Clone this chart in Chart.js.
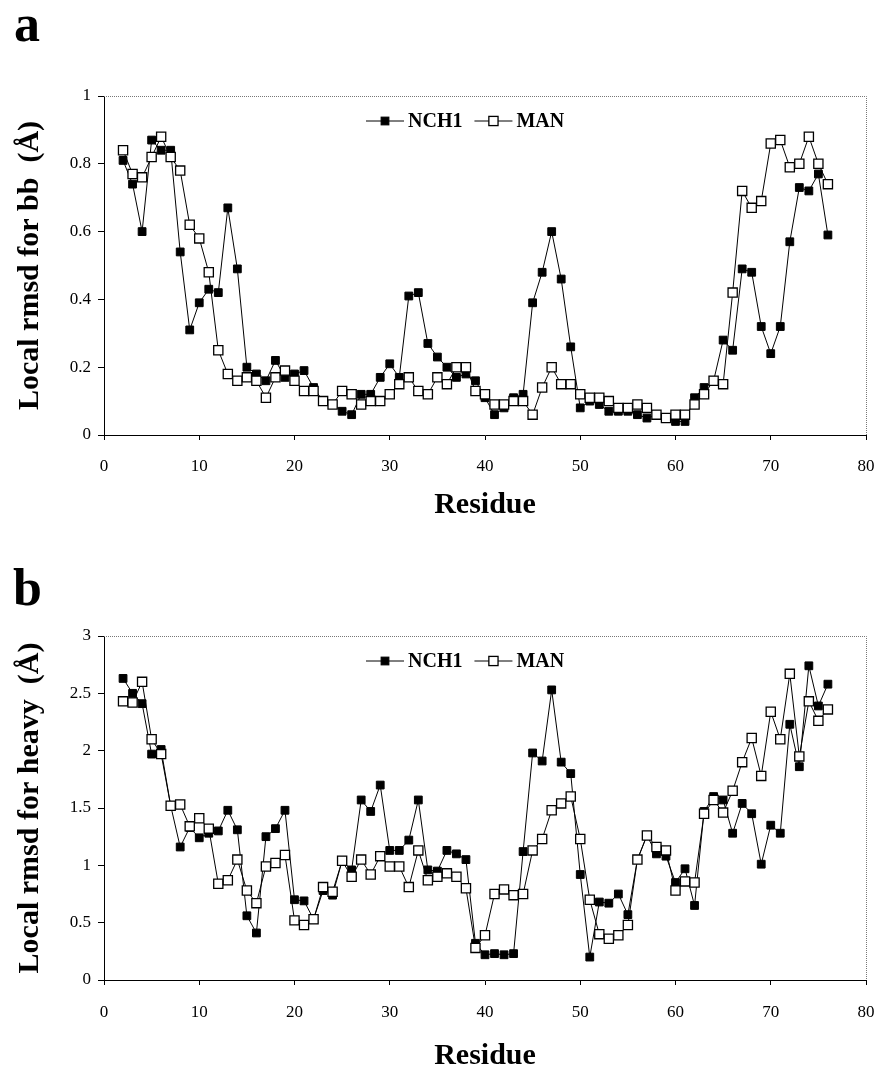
<!DOCTYPE html>
<html>
<head>
<meta charset="utf-8">
<script src="https://cdn.jsdelivr.net/npm/chart.js@4.4.1/dist/chart.umd.min.js"></script>
<style>
  body { margin: 0; background: #fff; }
  #hoja { position: relative; width: 878px; height: 1071px; background: #fff; }
  .letra { position: absolute; font: bold 52px 'Liberation Serif', serif; line-height: 1; color: #000; }
  canvas { position: absolute; left: 0; }
</style>
</head>
<body>
<div id="hoja">
  <div class="letra" style="left:14px; top:-2px;">a</div>
  <div class="letra" style="left:13px; top:562px;">b</div>
  <canvas id="graficoA" width="878" height="540" style="top:0px;"></canvas>
  <canvas id="graficoB" width="878" height="531" style="top:540px;"></canvas>
</div>
<script>
const residuos = [2, 3, 4, 5, 6, 7, 8, 9, 10, 11,
  12, 13, 14, 15, 16, 17, 18, 19, 20, 21,
  22, 23, 24, 25, 26, 27, 28, 29, 30, 31,
  32, 33, 34, 35, 36, 37, 38, 39, 40, 41,
  42, 43, 44, 45, 46, 47, 48, 49, 50, 51,
  52, 53, 54, 55, 56, 57, 58, 59, 60, 61,
  62, 63, 64, 65, 66, 67, 68, 69, 70, 71,
  72, 73, 74, 75, 76]

// panel a: backbone
const nch1Bb = [0.81, 0.74, 0.60, 0.87, 0.84, 0.84, 0.54, 0.31, 0.39, 0.43,
  0.42, 0.67, 0.49, 0.20, 0.18, 0.16, 0.22, 0.17, 0.18, 0.19,
  0.14, 0.10, 0.09, 0.07, 0.06, 0.12, 0.12, 0.17, 0.21, 0.17,
  0.41, 0.42, 0.27, 0.23, 0.20, 0.17, 0.18, 0.16, 0.11, 0.06,
  0.08, 0.11, 0.12, 0.39, 0.48, 0.60, 0.46, 0.26, 0.08, 0.10,
  0.09, 0.07, 0.07, 0.07, 0.06, 0.05, 0.06, 0.05, 0.04, 0.04,
  0.11, 0.14, 0.16, 0.28, 0.25, 0.49, 0.48, 0.32, 0.24, 0.32,
  0.57, 0.73, 0.72, 0.77, 0.59]
const manBb = [0.84, 0.77, 0.76, 0.82, 0.88, 0.82, 0.78, 0.62, 0.58, 0.48,
  0.25, 0.18, 0.16, 0.17, 0.16, 0.11, 0.17, 0.19, 0.16, 0.13,
  0.13, 0.10, 0.09, 0.13, 0.12, 0.09, 0.10, 0.10, 0.12, 0.15,
  0.17, 0.13, 0.12, 0.17, 0.15, 0.20, 0.20, 0.13, 0.12, 0.09,
  0.09, 0.10, 0.10, 0.06, 0.14, 0.20, 0.15, 0.15, 0.12, 0.11,
  0.11, 0.10, 0.08, 0.08, 0.09, 0.08, 0.06, 0.05, 0.06, 0.06,
  0.09, 0.12, 0.16, 0.15, 0.42, 0.72, 0.67, 0.69, 0.86, 0.87,
  0.79, 0.80, 0.88, 0.80, 0.74]

// panel b: heavy atoms
const nch1Heavy = [2.63, 2.50, 2.41, 1.97, 2.01, 1.52, 1.16, 1.33, 1.24, 1.28,
  1.30, 1.48, 1.31, 0.56, 0.41, 1.25, 1.32, 1.48, 0.70, 0.69,
  0.53, 0.78, 0.74, 1.04, 0.96, 1.57, 1.47, 1.70, 1.13, 1.13,
  1.22, 1.57, 0.96, 0.95, 1.13, 1.10, 1.05, 0.32, 0.22, 0.23,
  0.22, 0.23, 1.12, 1.98, 1.91, 2.53, 1.90, 1.80, 0.92, 0.20,
  0.68, 0.67, 0.75, 0.57, 1.05, 1.26, 1.10, 1.08, 0.85, 0.97,
  0.65, 1.47, 1.60, 1.57, 1.28, 1.54, 1.45, 1.01, 1.35, 1.28,
  2.23, 1.86, 2.74, 2.39, 2.58]
const manHeavy = [2.43, 2.42, 2.60, 2.10, 1.97, 1.52, 1.53, 1.34, 1.41, 1.32,
  0.84, 0.87, 1.05, 0.78, 0.67, 0.99, 1.02, 1.09, 0.52, 0.48,
  0.53, 0.81, 0.77, 1.04, 0.90, 1.05, 0.92, 1.08, 0.99, 0.99,
  0.81, 1.13, 0.87, 0.90, 0.93, 0.90, 0.80, 0.28, 0.39, 0.75,
  0.79, 0.74, 0.75, 1.13, 1.23, 1.48, 1.54, 1.60, 1.23, 0.70,
  0.40, 0.36, 0.39, 0.48, 1.05, 1.26, 1.16, 1.13, 0.78, 0.86,
  0.85, 1.45, 1.57, 1.46, 1.65, 1.90, 2.11, 1.78, 2.34, 2.10,
  2.67, 1.95, 2.43, 2.26, 2.36]

const ticksX = [0, 10, 20, 30, 40, 50, 60, 70, 80]
const ticksYa = [0, 0.2, 0.4, 0.6, 0.8, 1]
const ticksYb = [0, 0.5, 1, 1.5, 2, 2.5, 3]

const serif = "'Liberation Serif', 'Times New Roman', serif"

// dotted frame on top/right + legend inside the plot
const marco = {
  id: 'marco',
  afterDraw(chart) {
    const { ctx, chartArea: a } = chart
    ctx.save()
    ctx.strokeStyle = '#777'
    ctx.lineWidth = 1
    ctx.setLineDash([1, 1])
    ctx.beginPath()
    ctx.moveTo(a.left, a.top + 0.5)
    ctx.lineTo(a.right + 0.5, a.top + 0.5)
    ctx.lineTo(a.right + 0.5, a.bottom)
    ctx.stroke()
    ctx.setLineDash([])

    // legend
    let x = 366
    const y = a.top + 25
    ctx.font = 'bold 20px ' + serif
    ctx.textBaseline = 'middle'
    chart.data.datasets.forEach(ds => {
      ctx.strokeStyle = '#000'
      ctx.lineWidth = 1
      ctx.beginPath()
      ctx.moveTo(x, y)
      ctx.lineTo(x + 38, y)
      ctx.stroke()
      const s = ds.pointRadius * Math.SQRT1_2
      ctx.fillStyle = ds.pointBackgroundColor
      ctx.fillRect(x + 19 - s, y - s, 2 * s, 2 * s)
      ctx.lineWidth = ds.pointBorderWidth
      ctx.strokeRect(x + 19 - s, y - s, 2 * s, 2 * s)
      ctx.fillStyle = '#000'
      ctx.fillText(ds.label, x + 42, y + 1)
      x = x + 42 + ctx.measureText(ds.label).width + 12
    })
    ctx.restore()
  }
}

function grafico(id, nch1, man, ticksY, tituloY, altoX, padX, padTitulo) {
  const ctx = document.getElementById(id).getContext('2d')
  return new Chart(ctx, {
    type: 'line',
    data: {
      datasets: [{
        label: 'NCH1',
        data: residuos.map((r, i) => ({ x: r, y: nch1[i] })),
        borderColor: '#000',
        borderWidth: 1,
        pointStyle: 'rect',
        pointRadius: 5.5,
        pointBackgroundColor: '#000',
        pointBorderColor: '#000',
        pointBorderWidth: 1,
        tension: 0,
        order: 1
      }, {
        label: 'MAN',
        data: residuos.map((r, i) => ({ x: r, y: man[i] })),
        borderColor: '#000',
        borderWidth: 1,
        pointStyle: 'rect',
        pointRadius: 6.5,
        pointBackgroundColor: '#fff',
        pointBorderColor: '#000',
        pointBorderWidth: 1.3,
        tension: 0,
        order: 0
      }]
    },
    options: {
      responsive: false,
      animation: false,
      devicePixelRatio: 1,
      layout: { padding: { top: 96, right: 12, left: 0, bottom: 0 } },
      plugins: {
        legend: { display: false },
        tooltip: { enabled: false }
      },
      scales: {
        x: {
          type: 'linear',
          min: 0,
          max: 80,
          afterBuildTicks: s => { s.ticks = ticksX.map(v => ({ value: v })) },
          afterFit: s => { s.height = altoX; s.paddingRight = 0; s.paddingLeft = 0 },
          grid: { display: true, drawOnChartArea: false, drawTicks: true, tickLength: 5, color: '#000' },
          border: { display: true, color: '#000', width: 1 },
          ticks: { color: '#000', padding: padX, maxRotation: 0, font: { size: 17, family: serif },
            callback: v => String(v) },
          title: {
            display: true,
            text: 'Residue',
            color: '#000',
            font: { size: 30, weight: 'bold', family: serif, lineHeight: 1 },
            padding: { top: 0, bottom: padTitulo }
          }
        },
        y: {
          min: 0,
          max: ticksY[ticksY.length - 1],
          afterBuildTicks: s => { s.ticks = ticksY.map(v => ({ value: v })) },
          afterFit: s => { s.width = 104 },
          grid: { display: true, drawOnChartArea: false, drawTicks: true, tickLength: 6, color: '#000' },
          border: { display: true, color: '#000', width: 1 },
          ticks: { color: '#000', padding: 7, font: { size: 17, family: serif },
            callback: v => String(v) },
          title: {
            display: true,
            text: tituloY,
            color: '#000',
            font: { size: 30, weight: 'bold', family: serif, lineHeight: 1 },
            padding: { top: 15, bottom: 0 }
          }
        }
      }
    },
    plugins: [marco]
  })
}

grafico('graficoA', nch1Bb, manBb, ticksYa, 'Local rmsd for bb  (Å)', 105, 16, 20)
grafico('graficoB', nch1Heavy, manHeavy, ticksYb, 'Local rmsd for heavy  (Å)', 91, 17, 0)
</script>
</body>
</html>
